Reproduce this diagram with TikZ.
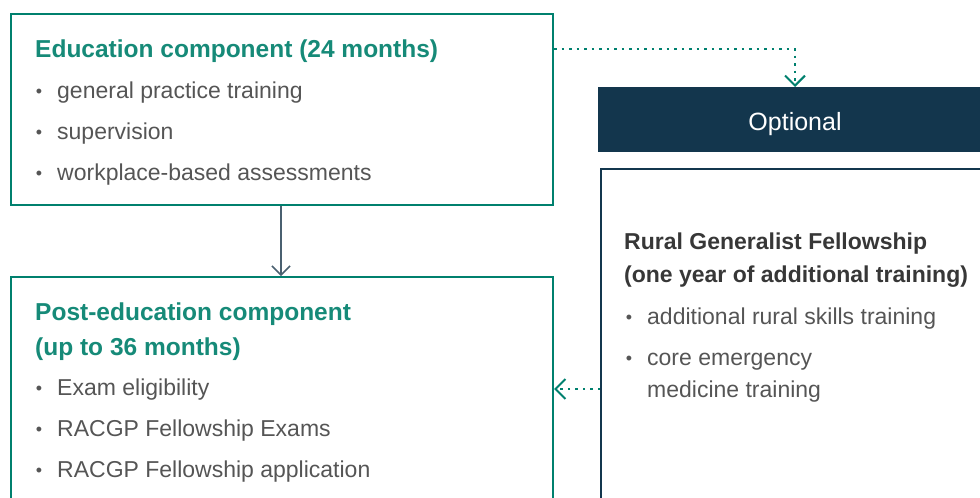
\documentclass[tikz,border=0pt]{standalone}
\usepackage{fontspec}
\setmainfont{Liberation Sans}
\usetikzlibrary{arrows.meta}

\definecolor{edgegreen}{RGB}{0,128,110}
\definecolor{headgreen}{RGB}{22,138,120}
\definecolor{navyblue}{RGB}{19,54,77}
\definecolor{bodygray}{RGB}{85,85,85}
\definecolor{headgray}{RGB}{55,55,55}
\definecolor{arrowgray}{RGB}{74,96,112}

\tikzset{
	greenbox/.style={draw=edgegreen,line width=2pt,inner sep=0pt,anchor=north west},
	navybox/.style={draw=navyblue,line width=2pt,inner sep=0pt,anchor=north west},
	greenhead/.style={text=headgreen,font=\fontsize{24.5}{28}\selectfont\bfseries,anchor=base west,inner sep=0pt},
	grayhead/.style={text=headgray,font=\fontsize{23}{27}\selectfont\bfseries,anchor=base west,inner sep=0pt},
	item/.style={text=bodygray,font=\fontsize{23}{27}\selectfont,anchor=base west,inner sep=0pt},
	dot/.style={text=bodygray,font=\fontsize{18}{20}\selectfont,anchor=base,inner sep=0pt},
	dotline/.style={edgegreen,line width=2.5pt,dash pattern=on 2.5pt off 5pt},
	chevron/.style={-{Straight Barb[length=10pt,width=20pt,line width=2pt]}}
}

\begin{document}
\begin{tikzpicture}[x=1pt,y=-1pt]
	\useasboundingbox (0,0) rectangle (980,498);
	\clip (0,0) rectangle (980,498);
	
	% left column
	\node[greenbox,minimum width=542pt,minimum height=191pt] (edu) at (10,13) {};
	\node[greenhead] (eduhead) at (35,57) {Education component (24 months)};
	\node[dot] (edudot1) at (39,97) {•};
	\node[item] (edu1) at (57,98) {general practice training};
	\node[dot] (edudot2) at (39,138) {•};
	\node[item] (edu2) at (57,139) {supervision};
	\node[dot] (edudot3) at (39,179) {•};
	\node[item] (edu3) at (57,180) {workplace-based assessments};
	
	\node[greenbox,minimum width=542pt,minimum height=260pt] (post) at (10,276) {};
	\node[greenhead] (posthead1) at (35,320) {Post-education component};
	\node[greenhead] (posthead2) at (35,355) {(up to 36 months)};
	\node[dot] (postdot1) at (39,394) {•};
	\node[item] (post1) at (57,395) {Exam eligibility};
	\node[dot] (postdot2) at (39,435) {•};
	\node[item] (post2) at (57,436) {RACGP Fellowship Exams};
	\node[dot] (postdot3) at (39,476) {•};
	\node[item] (post3) at (57,477) {RACGP Fellowship application};
	
	% right column
	\node[fill=navyblue,inner sep=0pt,anchor=north west,minimum width=400pt,minimum height=65pt] (opt) at (598,87) {};
	\node[text=white,font=\fontsize{25}{29}\selectfont,anchor=base] (opttext) at (795,130) {Optional};
	
	\node[navybox,minimum width=400pt,minimum height=360pt] (rural) at (600,168) {};
	\node[grayhead] (ruralhead1) at (624,249) {Rural Generalist Fellowship};
	\node[grayhead] (ruralhead2) at (624,282) {(one year of additional training)};
	\node[dot] (ruraldot1) at (629,323) {•};
	\node[item] (rural1) at (647,324) {additional rural skills training};
	\node[dot] (ruraldot2) at (629,364) {•};
	\node[item] (rural2) at (647,365) {core emergency};
	\node[item] (rural3) at (647,397) {medicine training};
	
	% connectors
	\coordinate (bend) at (795,49);
	\draw[arrowgray,line width=1.5pt,-{Straight Barb[length=9pt,width=18pt,line width=1.5pt]}] (edu.south -| 281,0) -- (post.north -| 281,0);
	\draw[dotline,chevron] (edu.east |- bend) -- (bend) -- (opt.north -| bend);
	\draw[dotline,chevron] (rural.west |- 0,389) -- (post.east |- 0,389);
\end{tikzpicture}
\end{document}
